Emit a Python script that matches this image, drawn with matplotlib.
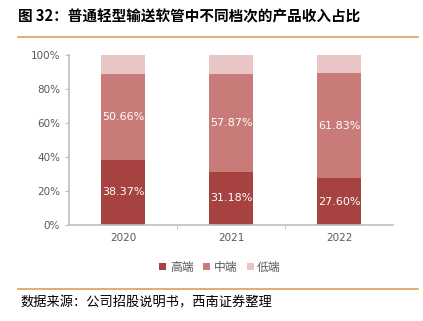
import matplotlib.pyplot as plt
import numpy as np

plt.rcParams['font.family'] = ['Noto Sans CJK SC', 'DejaVu Sans']

years = ["2020", "2021", "2022"]
high = [38.37, 31.18, 27.60]
mid = [50.66, 57.87, 61.83]
low = [100 - h - m for h, m in zip(high, mid)]
series_names = ["高端", "中端", "低端"]
colors = ["#A6423F", "#C97B7A", "#E8C6C6"]

fig = plt.figure(figsize=(4.23, 3.21), dpi=100)
ax = fig.add_axes([69 / 423, 1 - 225 / 321, 324 / 423, 170 / 321])

x = np.arange(len(years))
w = 0.4
ax.bar(x, high, w, color=colors[0], label=series_names[0])
ax.bar(x, mid, w, bottom=high, color=colors[1], label=series_names[1])
ax.bar(x, low, w, bottom=np.add(high, mid), color=colors[2], label=series_names[2])

for i in range(len(years)):
    ax.text(x[i], high[i] / 2, f"{high[i]:.2f}%", ha="center", va="center",
            color="white", fontsize=8, family="DejaVu Sans")
    ax.text(x[i], high[i] + mid[i] / 2, f"{mid[i]:.2f}%", ha="center",
            va="center", color="white", fontsize=8, family="DejaVu Sans")

ax.set_xlim(-0.5, 2.5)
ax.set_ylim(0, 100)
ax.set_yticks(np.arange(0, 101, 20))
ax.set_yticklabels([f"{v}%" for v in range(0, 101, 20)])
ax.set_xticks(x)
ax.set_xticklabels(years)
ax.set_xticks([0.5, 1.5], minor=True)
ax.tick_params(axis="x", which="major", length=0, pad=6)
ax.tick_params(axis="x", which="minor", length=3, color="#BFBFBF")
ax.tick_params(axis="y", length=3, color="#BFBFBF")
ax.tick_params(labelsize=7.5, labelcolor="#595959")
for lab in ax.get_xticklabels() + ax.get_yticklabels():
    lab.set_family("DejaVu Sans")
for s in ["top", "right"]:
    ax.spines[s].set_visible(False)
for s in ["left", "bottom"]:
    ax.spines[s].set_color("#BFBFBF")
    ax.spines[s].set_linewidth(1.2)

leg = ax.legend(loc="center", bbox_to_anchor=(220 / 423, 1 - 267 / 321),
                bbox_transform=fig.transFigure, ncol=3, frameon=False,
                fontsize=8.5, handlelength=0.6, handleheight=0.6,
                handletextpad=0.3, columnspacing=0.8)
for t in leg.get_texts():
    t.set_color("#595959")

fig.text(18 / 423, 1 - 16 / 321, "图 32：普通轻型输送软管中不同档次的产品收入占比",
         fontsize=10.5, fontweight="bold", va="center", ha="left")
fig.add_artist(plt.Line2D([18 / 423, 418 / 423], [1 - 37 / 321] * 2,
                          color="#D9A05B", lw=1.2))
fig.add_artist(plt.Line2D([18 / 423, 418 / 423], [1 - 289 / 321] * 2,
                          color="#D9A05B", lw=1.2))
fig.text(20 / 423, 1 - 303 / 321, "数据来源：公司招股说明书，西南证券整理",
         fontsize=9.5, style="italic", va="center", ha="left")

fig.savefig("out.png", dpi=100)
